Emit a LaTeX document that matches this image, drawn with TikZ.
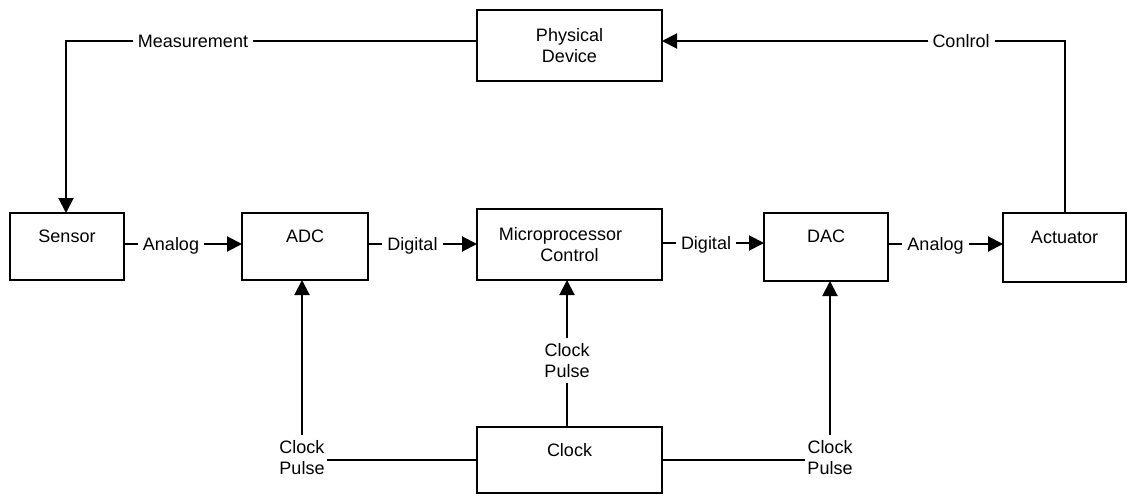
\documentclass[tikz,border=0pt]{standalone}
\usepackage{fontspec}
\setmainfont{Liberation Sans}
\usetikzlibrary{arrows.meta}
\begin{document}
\begin{tikzpicture}[x=1pt,y=-1pt,
  box/.style={draw, line width=2.5pt, inner sep=0pt, outer sep=0pt, align=center, font=\fontsize{18}{21}\selectfont},
  lab/.style={inner xsep=5pt, inner ysep=4pt, outer sep=0pt, font=\fontsize{18}{21}\selectfont, text height=13pt, text depth=0pt},
  cp/.style={inner xsep=2pt, inner ysep=5pt, outer sep=0pt, align=center, font=\fontsize{18}{21}\selectfont},
  conn/.style={line width=2pt},
  arr/.style={conn, -{Triangle[length=15pt,width=15pt]}}
]
\fill[white] (0,0) rectangle (1129,495);
\useasboundingbox (0,0) rectangle (1129,495);

% boxes
\node[box, minimum width=185pt, minimum height=71pt] (phys) at (569.5,45.5) {Physical\\Device};
\node[box, minimum width=114pt, minimum height=67pt] (sensor) at (67,246.5) {Sensor\\\mbox{}};
\node[box, minimum width=126pt, minimum height=67pt] (adc) at (305,246.5) {ADC\\\mbox{}};
\node[box, minimum width=185pt, minimum height=71pt] (micro) at (569.5,244.5) {Microprocessor\hspace*{18pt}\\Control};
\node[box, minimum width=124pt, minimum height=68pt] (dac) at (826,247) {DAC\\\mbox{}};
\node[box, minimum width=123pt, minimum height=69pt] (act) at (1064.5,247.5) {Actuator\\\mbox{}};
\node[box, minimum width=185pt, minimum height=66pt] (clock) at (569.5,460) {Clock\\\mbox{}};

% labels
\node[lab] (meas) at (193,41) {Measurement};
\node[lab] (ctrl) at (961,41) {Conlrol};
\node[lab] (an1) at (171,244) {Analog};
\node[lab] (dg1) at (412.5,244) {Digital};
\node[lab] (dg2) at (706,243) {Digital};
\node[lab] (an2) at (935.5,244) {Analog};
\node[cp] (cp1) at (302,457.5) {Clock\\Pulse};
\node[cp] (cp2) at (567,360.5) {Clock\\Pulse};
\node[cp] (cp3) at (830,457.5) {Clock\\Pulse};

% feedback loop
\coordinate (c1) at (66,41);
\coordinate (c2) at (1064.5,41);
\draw[conn] (phys.west |- meas) -- (meas.east);
\draw[arr] (meas.west) -- (c1) -- (c1 |- sensor.north);
\draw[conn] (act.north) -- (c2) -- (ctrl.east);
\draw[arr] (ctrl.west) -- (ctrl -| phys.east);

% forward chain
\draw[conn] (an1 -| sensor.east) -- (an1.west);
\draw[arr] (an1.east) -- (an1 -| adc.west);
\draw[conn] (dg1 -| adc.east) -- (dg1.west);
\draw[arr] (dg1.east) -- (dg1 -| micro.west);
\draw[conn] (dg2 -| micro.east) -- (dg2.west);
\draw[arr] (dg2.east) -- (dg2 -| dac.west);
\draw[conn] (an2 -| dac.east) -- (an2.west);
\draw[arr] (an2.east) -- (an2 -| act.west);

% clock
\draw[arr] (cp1.north) -- (cp1.north |- adc.south);
\draw[conn] (clock.west) -- (clock.west -| cp1.east);
\draw[arr] (cp2.north) -- (cp2.north |- micro.south);
\draw[conn] (cp2.south) -- (cp2.south |- clock.north);
\draw[arr] (cp3.north) -- (cp3.north |- dac.south);
\draw[conn] (clock.east) -- (clock.east -| cp3.west);
\end{tikzpicture}
\end{document}
